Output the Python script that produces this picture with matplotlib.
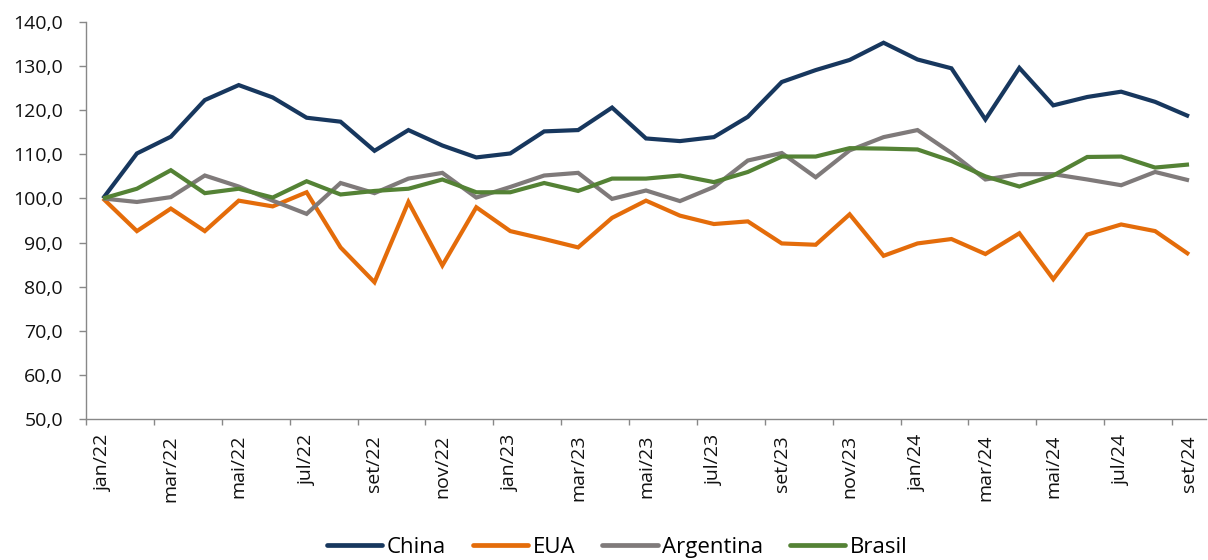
import matplotlib
matplotlib.use("Agg")
import matplotlib.pyplot as plt
import numpy as np

months = ["jan/22","fev/22","mar/22","abr/22","mai/22","jun/22","jul/22","ago/22","set/22","out/22","nov/22","dez/22",
          "jan/23","fev/23","mar/23","abr/23","mai/23","jun/23","jul/23","ago/23","set/23","out/23","nov/23","dez/23",
          "jan/24","fev/24","mar/24","abr/24","mai/24","jun/24","jul/24","ago/24","set/24"]

china = [100.0, 110.2, 114.0, 122.3, 125.7, 122.9, 118.3, 117.4, 110.8, 115.5, 112.0, 109.3,
         110.2, 115.2, 115.5, 120.6, 113.6, 113.0, 113.9, 118.5, 126.4, 129.1, 131.4, 135.3,
         131.5, 129.5, 117.9, 129.6, 121.1, 123.0, 124.2, 121.9, 118.6]
eua = [100.0, 92.6, 97.7, 92.6, 99.5, 98.2, 101.4, 88.9, 81.0, 99.2, 84.8, 98.0,
       92.6, 90.8, 88.9, 95.6, 99.5, 96.1, 94.2, 94.8, 89.8, 89.5, 96.4, 87.0,
       89.8, 90.8, 87.4, 92.1, 81.7, 91.8, 94.1, 92.6, 87.3]
argentina = [100.0, 99.2, 100.3, 105.2, 102.7, 99.5, 96.5, 103.5, 101.2, 104.5, 105.8, 100.2,
             102.6, 105.2, 105.8, 99.9, 101.8, 99.4, 102.6, 108.6, 110.3, 104.8, 110.9, 113.9,
             115.5, 110.3, 104.3, 105.5, 105.5, 104.3, 103.0, 106.0, 104.1]
brasil = [100.0, 102.2, 106.4, 101.2, 102.2, 100.2, 103.9, 100.9, 101.7, 102.2, 104.3, 101.4,
          101.4, 103.5, 101.7, 104.5, 104.5, 105.2, 103.7, 106.0, 109.5, 109.5, 111.4, 111.3,
          111.1, 108.5, 105.0, 102.7, 105.2, 109.4, 109.5, 107.0, 107.7]

series = [("China", china, "#17375e"), ("EUA", eua, "#e46c0a"),
          ("Argentina", argentina, "#7f7a7a"), ("Brasil", brasil, "#548235")]

plt.rcParams['font.family'] = ['Open Sans', 'DejaVu Sans']

fig = plt.figure(figsize=(12.08, 5.6), dpi=100)
ax = fig.add_axes([86/1208, 1-419/560, (1206-86)/1208, (419-22)/560])

x = np.arange(len(months))
for name, vals, col in series:
    ax.plot(x, vals, color=col, lw=3.0, label=name, solid_joinstyle='miter', solid_capstyle='butt')

ax.set_xlim(-0.5, len(months)-0.5)
ax.set_ylim(50, 140)
yt = np.arange(50, 141, 10)
ax.set_yticks(yt)
ax.set_yticklabels([f"{v:.1f}".replace(".", ",") for v in yt], fontsize=14, color='#111111')

ax.set_xticks(x[::2])
ax.set_xticklabels(months[::2], rotation=90, fontsize=14, color='#111111')
ax.tick_params(axis='x', which='major', length=0, pad=11.5)
ax.set_xticks(np.arange(-0.5, len(months), 2), minor=True)
ax.tick_params(axis='x', which='minor', length=4.5, color='#888888', width=1)
ax.tick_params(axis='y', length=5, color='#888888', width=1, pad=11.5)

for s in ['top', 'right']:
    ax.spines[s].set_visible(False)
for s in ['left', 'bottom']:
    ax.spines[s].set_color('#888888')
    ax.spines[s].set_linewidth(1)

leg = fig.legend(loc='center', bbox_to_anchor=(0.511, 0.023), ncol=4, frameon=False,
                 fontsize=16, handlelength=2.5, handletextpad=0.2, columnspacing=1.2)
for h in leg.get_lines():
    h.set_linewidth(3.4)
    h.set_solid_capstyle('round')

fig.savefig("out.png", dpi=100)
